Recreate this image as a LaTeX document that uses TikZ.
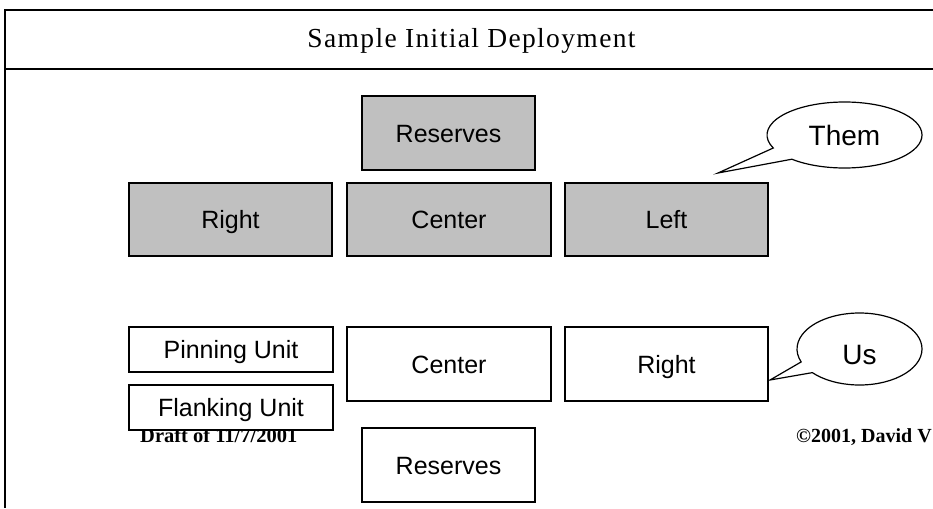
\documentclass[tikz,border=0pt]{standalone}
\usepackage{fontspec}
\setmainfont{Liberation Serif}
\newfontfamily\arialf{Liberation Sans}
\usetikzlibrary{shapes.callouts,shapes.geometric}
\definecolor{unitgray}{HTML}{C0C0C0}
\begin{document}
\begin{tikzpicture}[x=1pt,y=-1pt,
  unitbox/.style={draw, line width=1.2pt, inner sep=0pt, fill=white,
    text height=18pt, text depth=0pt,
    font=\arialf\fontsize{25}{28}\selectfont},
  enemybox/.style={unitbox, fill=unitgray},
  bubble/.style={ellipse callout, draw, line width=1.2pt, fill=white, inner sep=0pt,
    text height=20pt, text depth=0pt,
    font=\arialf\fontsize{28}{30}\selectfont},
  notetext/.style={inner sep=0pt, anchor=base west, font=\bfseries\fontsize{20.5}{23}\selectfont}]
\useasboundingbox (0,0) rectangle (933,508);
% frame
\draw[line width=1.5pt] (5,69) -- (933,69);
\draw[line width=1.5pt] (5,69) -- (5,508);
\draw[line width=2.6pt] (933,10) -- (5,10) -- (5,69);
\node[inner sep=0pt, anchor=base, font=\fontsize{27.5}{30}\selectfont\addfontfeature{LetterSpace=5}]
  (title) at (471.5,48) {Sample Initial Deployment};
% notes
\node[notetext] (draft) at (140,442) {Draft of 11/7/2001};
\node[notetext, font=\bfseries\fontsize{20}{23}\selectfont] (copy) at (796,442) {©2001, David V};
% them
\node[enemybox, minimum width=173pt, minimum height=74pt] (tres) at (448.5,133) {Reserves};
\node[enemybox, minimum width=203pt, minimum height=73pt] (tright) at (230.5,219.5) {Right};
\node[enemybox, minimum width=204pt, minimum height=73pt] (tcenter) at (449,219.5) {Center};
\node[enemybox, minimum width=203pt, minimum height=73pt] (tleft) at (666.5,219.5) {Left};
% us
\node[unitbox, minimum width=204pt, minimum height=45pt] (pin) at (231,349.5) {Pinning Unit};
\node[unitbox, minimum width=204pt, minimum height=45pt] (flank) at (231,407.5) {Flanking Unit};
\node[unitbox, minimum width=204pt, minimum height=74pt] (ucenter) at (449,364) {Center};
\node[unitbox, minimum width=203pt, minimum height=74pt] (uright) at (666.5,364) {Right};
\node[unitbox, minimum width=173pt, minimum height=74pt] (ures) at (448.5,465) {Reserves};
% callouts
\coordinate (themtip) at (718,173);
\coordinate (ustip) at (770,380);
\node[bubble, minimum width=155pt, minimum height=66pt, callout pointer arc=24,
  callout absolute pointer={(themtip)}] (them) at (844.5,135) {Them};
\node[bubble, minimum width=125pt, minimum height=72pt, callout pointer arc=20,
  callout absolute pointer={(ustip)}] (us) at (859.5,349) {\raisebox{-5pt}{Us}};
\end{tikzpicture}
\end{document}
